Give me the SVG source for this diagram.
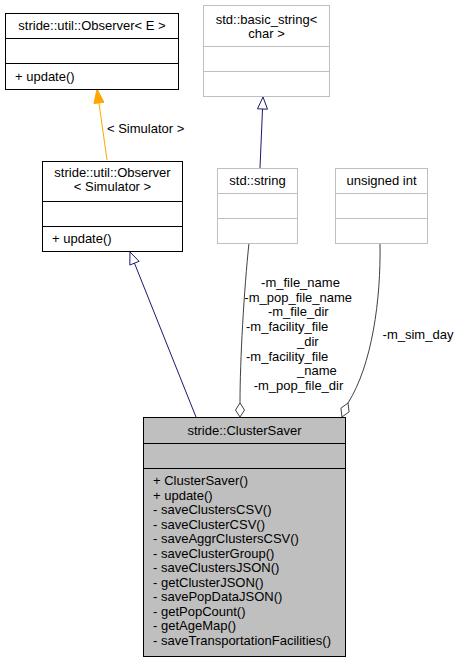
<svg xmlns="http://www.w3.org/2000/svg" width="460" height="661" viewBox="0 0 460 661">
<style>
text{font-family:"Liberation Sans",Arial,sans-serif;font-size:13px;fill:#000}
.c{text-anchor:middle}
.blk{fill:#fff;stroke:#000;stroke-width:1}
.gry{fill:#fff;stroke:#bfbfbf;stroke-width:1}
.sel{fill:#bfbfbf;stroke:#000;stroke-width:1}
.sepb{stroke:#000;stroke-width:1}
.sepg{stroke:#bfbfbf;stroke-width:1}
.inh{fill:none;stroke:#191970;stroke-width:1}
.inhh{fill:#fff;stroke:#191970;stroke-width:1}
.tpl{fill:none;stroke:#ffa500;stroke-width:1}
.tplh{fill:#ffa500;stroke:#ffa500;stroke-width:1}
.use{fill:none;stroke:#404040;stroke-width:1}
.useh{fill:#fff;stroke:#404040;stroke-width:1}
</style>
<rect width="460" height="661" fill="#fff"/>
<g id="edges">
  <path class="tpl" d="M107,160 L98.95,102.86"/>
  <polygon class="tplh" points="97,89 103.9,102.2 94,103.6"/>
  <text x="107" y="132.5">&lt; Simulator &gt;</text>
  <path class="inh" d="M196,417 L134.45,263.14"/>
  <polygon class="inhh" points="130,252 139.1,261.3 129.8,265"/>
  <path class="inh" d="M260,168 L262.5,109"/>
  <polygon class="inhh" points="263,97 267.5,109.2 257.5,108.8"/>
  <path class="use" d="M249,243 C244,290 240,360 240,403"/>
  <polygon class="useh" points="240,403 244.5,410 240,417 235.5,410"/>
  <text class="c" x="300.5" y="287">-m_file_name</text>
  <text class="c" x="298.2" y="301.7">-m_pop_file_name</text>
  <text class="c" x="298.3" y="316.4">-m_file_dir</text>
  <text x="246" y="331.1">-m_facility_file</text>
  <text x="297" y="345.8">_dir</text>
  <text x="246" y="360.5">-m_facility_file</text>
  <text x="297" y="375.2">_name</text>
  <text class="c" x="298.5" y="389.9">-m_pop_file_dir</text>
  <path class="use" d="M380,243 C381,300 372,365 348,403"/>
  <polygon class="useh" points="348,403 349.1,411.8 342,417 340.9,408.2"/>
  <text class="c" x="418" y="338.5">-m_sim_day</text>
</g>
<g id="observer_e">
  <rect class="blk" x="5.5" y="13.5" width="173" height="76"/>
  <line class="sepb" x1="5.5" y1="38.5" x2="178.5" y2="38.5"/>
  <line class="sepb" x1="5.5" y1="63.5" x2="178.5" y2="63.5"/>
  <text class="c" x="92" y="30">stride::util::Observer&lt; E &gt;</text>
  <text x="15" y="80.5">+ update()</text>
</g>
<g id="basic_string">
  <rect class="gry" x="203.5" y="5.5" width="126" height="91"/>
  <line class="sepg" x1="203.5" y1="46.5" x2="329.5" y2="46.5"/>
  <line class="sepg" x1="203.5" y1="71.5" x2="329.5" y2="71.5"/>
  <text class="c" x="266.5" y="24">std::basic_string&lt;</text>
  <text class="c" x="266.5" y="38">char &gt;</text>
</g>
<g id="observer_sim">
  <rect class="blk" x="42.5" y="161.5" width="140" height="90"/>
  <line class="sepb" x1="42.5" y1="201.5" x2="182.5" y2="201.5"/>
  <line class="sepb" x1="42.5" y1="226.5" x2="182.5" y2="226.5"/>
  <text class="c" x="112.5" y="177">stride::util::Observer</text>
  <text class="c" x="112.5" y="191">&lt; Simulator &gt;</text>
  <text x="52" y="243">+ update()</text>
</g>
<g id="std_string">
  <rect class="gry" x="217.5" y="168.5" width="80" height="75"/>
  <line class="sepg" x1="217.5" y1="193.5" x2="297.5" y2="193.5"/>
  <line class="sepg" x1="217.5" y1="218.5" x2="297.5" y2="218.5"/>
  <text class="c" x="257.5" y="185">std::string</text>
</g>
<g id="unsigned_int">
  <rect class="gry" x="335.5" y="168.5" width="92" height="75"/>
  <line class="sepg" x1="335.5" y1="193.5" x2="427.5" y2="193.5"/>
  <line class="sepg" x1="335.5" y1="218.5" x2="427.5" y2="218.5"/>
  <text class="c" x="381.5" y="185">unsigned int</text>
</g>
<g id="cluster_saver">
  <rect class="sel" x="143.5" y="417.5" width="202" height="239"/>
  <line class="sepb" x1="143.5" y1="443.5" x2="345.5" y2="443.5"/>
  <line class="sepb" x1="143.5" y1="468.5" x2="345.5" y2="468.5"/>
  <text class="c" x="244.5" y="434.5">stride::ClusterSaver</text>
  <text x="153" y="485">+ ClusterSaver()</text>
  <text x="153" y="499.5">+ update()</text>
  <text x="153" y="514">- saveClustersCSV()</text>
  <text x="153" y="528.5">- saveClusterCSV()</text>
  <text x="153" y="543">- saveAggrClustersCSV()</text>
  <text x="153" y="557.5">- saveClusterGroup()</text>
  <text x="153" y="572">- saveClustersJSON()</text>
  <text x="153" y="586.5">- getClusterJSON()</text>
  <text x="153" y="601">- savePopDataJSON()</text>
  <text x="153" y="615.5">- getPopCount()</text>
  <text x="153" y="630">- getAgeMap()</text>
  <text x="153" y="644.5">- saveTransportationFacilities()</text>
</g>
</svg>
